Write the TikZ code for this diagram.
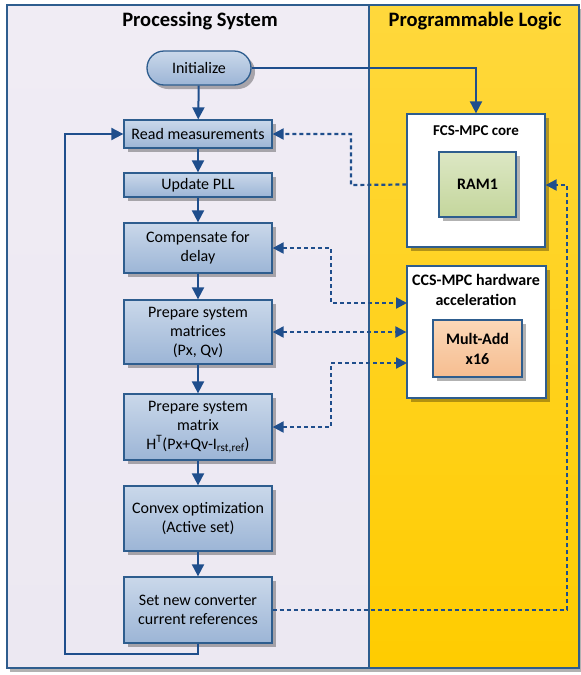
\documentclass[tikz,border=0pt]{standalone}
\usepackage{fontspec}
\setmainfont{Carlito}
\usetikzlibrary{arrows.meta,shadows,calc}
\definecolor{lineblue}{HTML}{1F4E8C}
\definecolor{edgeblue}{HTML}{2E5D8E}
\definecolor{lav}{HTML}{F0ECF4}
\definecolor{lavb}{HTML}{ECE8F2}
\definecolor{ylwtop}{HTML}{FFD83C}
\definecolor{ylwbot}{HTML}{FFCC00}
\definecolor{boxtop}{HTML}{CAD8EA}
\definecolor{boxbot}{HTML}{9CB5D6}
\definecolor{ramtop}{HTML}{DCE7C4}
\definecolor{rambot}{HTML}{C4D69C}
\definecolor{multop}{HTML}{FBD8B8}
\definecolor{mulbot}{HTML}{F6BD90}
\tikzset{
  shad/.style={drop shadow={shadow xshift=4pt,shadow yshift=-4pt,fill=black,opacity=0.3}},
  stepbox/.style={draw=edgeblue,line width=1.3pt,top color=boxtop,bottom color=boxbot,
     minimum width=148pt,align=center,inner sep=2pt,shad,
     font=\fontsize{16}{19}\selectfont},
  termbox/.style={stepbox,rounded corners=17pt,minimum width=104pt,minimum height=34pt},
  hwbox/.style={draw=edgeblue,line width=1.3pt,fill=white,shad},
  inbox/.style={draw=edgeblue,line width=1.3pt,shad,align=center,
     font=\fontsize{16}{20}\selectfont\bfseries},
  flow/.style={draw=lineblue,line width=2pt,-{Triangle[length=12pt,width=12pt]}},
  dflow/.style={draw=lineblue,line width=2.2pt,dash pattern=on 4pt off 3pt,-{Triangle[length=11pt,width=11pt]}},
  ddflow/.style={dflow,{Triangle[length=11pt,width=11pt]}-{Triangle[length=11pt,width=11pt]}},
  ttl/.style={font=\fontsize{20.5}{24}\selectfont\bfseries},
}
\begin{document}
\begin{tikzpicture}[x=1pt,y=-1pt]
\useasboundingbox (0,0) rectangle (581,675);
% panels
\path[drop shadow={shadow xshift=3pt,shadow yshift=-4pt,fill=black,opacity=0.3}] (7,5) rectangle (579,668);
\fill[top color=lav,bottom color=lavb] (7,5) rectangle (369,668);
\fill[top color=ylwtop,bottom color=ylwbot] (369,5) rectangle (579,668);
\draw[edgeblue,line width=1.2pt] (7,5) rectangle (579,668);
\draw[edgeblue,line width=1.2pt] (369,5) -- (369,668);
\node[ttl] (tps) at (200,21) {Processing System};
\node[ttl] (tpl) at (475,21) {Programmable Logic};
% left flow
\node[termbox] (init) at (199,68) {Initialize};
\node[stepbox,minimum height=28pt] (read) at (198,134) {Read measurements};
\node[stepbox,minimum height=24pt] (pll) at (198,185) {Update PLL};
\node[stepbox,minimum height=50pt] (comp) at (198,248) {Compensate for\\delay};
\node[stepbox,minimum height=64pt] (mats) at (198,332) {Prepare system\\matrices\\(Px, Qv)};
\node[stepbox,minimum height=66pt] (matx) at (198,427) {Prepare system\\matrix\\H\textsuperscript{T}(Px+Qv-I\textsubscript{rst,ref})};
\node[stepbox,minimum height=65pt] (conv) at (198,518.5) {Convex optimization\\(Active set)};
\node[stepbox,minimum height=66pt] (setn) at (198,610) {Set new converter\\current references};
% right hardware
\node[hwbox,minimum width=138pt,minimum height=133pt] (fcs) at (476,180.5) {};
\node[font=\fontsize{15}{20}\selectfont\bfseries] (fcst) at (476,131) {FCS-MPC core};
\node[inbox,top color=ramtop,bottom color=rambot,minimum width=77pt,minimum height=65pt] (ram) at (477.5,184.5) {RAM1};
\node[hwbox,minimum width=139pt,minimum height=132pt] (ccs) at (476.5,332) {};
\node[font=\fontsize{16}{20}\selectfont\bfseries,align=center] (ccst) at (476,290) {CCS-MPC hardware\\acceleration};
\node[inbox,top color=multop,bottom color=mulbot,minimum width=89pt,minimum height=57pt] (mult) at (477.5,348.5) {Mult-Add\\x16};
% solid flow
\draw[flow] (init) -- (read);
\draw[flow] (read) -- (pll);
\draw[flow] (pll) -- (comp);
\draw[flow] (comp) -- (mats);
\draw[flow] (mats) -- (matx);
\draw[flow] (matx) -- (conv);
\draw[flow] (conv) -- (setn);
\draw[flow] (init.east) -| (fcs.north);
\coordinate (lb) at (198,654);
\coordinate (ll) at (65,654);
\draw[flow] (setn.south) -- (lb) -- (ll) |- (read.west);
% dashed
\coordinate (fa) at (351,185);
\draw[dflow] (fcs.west |- ram.center) -- (fa) |- (read.east);
\coordinate (rr) at (567,185);
\draw[dflow] (setn.east) -| (rr) -- (fcs.east |- rr);
\coordinate (c1) at (331,248);
\coordinate (c1b) at (407,303);
\draw[ddflow] (comp.east) -- (c1) |- (c1b);
\draw[ddflow] (mats.east) -- (ccs.west);
\coordinate (c3) at (331,427);
\coordinate (c3b) at (407,363);
\draw[ddflow] (matx.east) -- (c3) |- (c3b);
\end{tikzpicture}
\end{document}
